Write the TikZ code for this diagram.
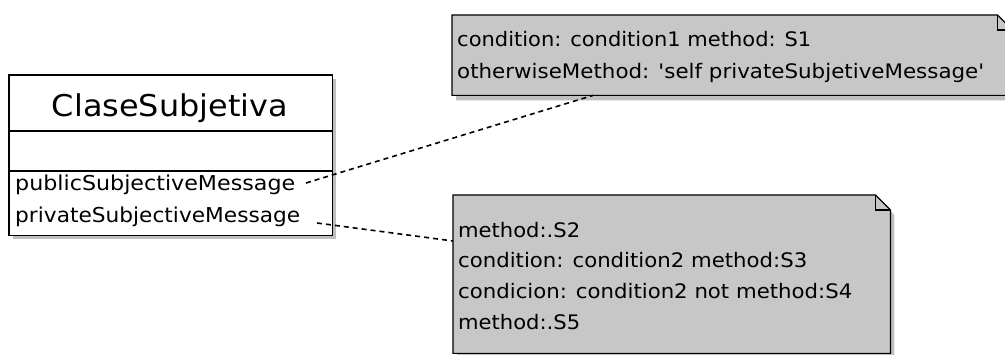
\documentclass[tikz,border=0pt]{standalone}
\usepackage{fontspec}
\setmainfont{DejaVu Sans}[Ligatures=TeXOff]
\usetikzlibrary{calc}
% set a text to a given width, keeping its height
\newcommand{\fitw}[2]{\resizebox{#1}{\height}{#2}}
\begin{document}
\begin{tikzpicture}[x=1pt,y=-1pt,
  umlline/.style={line width=1.6pt},
  noteline/.style={line width=1.2pt},
  notefill/.style={fill=black!22},
  shadowfill/.style={fill=black!25},
  dep/.style={line width=1.6pt, dash pattern=on 5pt off 4pt},
  titletext/.style={font=\fontsize{30}{36}\selectfont, inner sep=0pt, anchor=base},
  membertext/.style={font=\fontsize{20.5}{24}\selectfont, inner sep=0pt, anchor=base west},
  notetext/.style={font=\fontsize{20}{24}\selectfont, inner sep=0pt, anchor=base west},
  frame/.style={inner sep=0pt, draw=none, anchor=north west}
]
\useasboundingbox (0,0) rectangle (1005,355);
\clip (0,0) rectangle (1005,355);

% ---- class box ----
\node[frame, minimum width=323pt, minimum height=160pt] (cls) at (9,75) {};
\fill[shadowfill] ($(cls.north west)+(4,4)$) rectangle ($(cls.south east)+(4,4)$);
\draw[umlline, fill=white] (cls.north west) rectangle (cls.south east);
\draw[umlline] ($(cls.north west)+(0,56)$) -- ($(cls.north east)+(0,56)$);
\draw[umlline] ($(cls.north west)+(0,96)$) -- ($(cls.north east)+(0,96)$);
\node[titletext] (title) at (170,117) {\fitw{236pt}{ClaseSubjetiva}};
\node[membertext] (pub) at (15,191) {\fitw{280pt}{publicSubjectiveMessage}};
\node[membertext] (priv) at (15,223) {\fitw{285pt}{privateSubjectiveMessage}};

% ---- note 1 ----
\node[frame, minimum width=560pt, minimum height=80pt] (note1) at (452,15) {};
\fill[shadowfill] ($(note1.north west)+(4,5)$) -- ($(note1.north east)+(-11,5)$)
  -- ($(note1.north east)+(4,20)$) -- ($(note1.south east)+(4,5)$)
  -- ($(note1.south west)+(4,5)$) -- cycle;
\filldraw[notefill, noteline] (note1.north west) -- ($(note1.north east)+(-15,0)$)
  -- ($(note1.north east)+(0,15)$) -- (note1.south east) -- (note1.south west) -- cycle;
\draw[noteline] ($(note1.north east)+(-15,0)$) -- ($(note1.north east)+(-15,15)$)
  -- ($(note1.north east)+(0,15)$);
\node[notetext] (n1a) at (457,47) {\fitw{354pt}{condition: condition1 method: S1}};
\node[notetext] (n1b) at (457,79) {\fitw{527pt}{otherwiseMethod: 'self privateSubjetiveMessage'}};

% ---- note 2 ----
\node[frame, minimum width=437pt, minimum height=158pt] (note2) at (453,195) {};
\fill[shadowfill] ($(note2.north west)+(4,5)$) -- ($(note2.north east)+(-11,5)$)
  -- ($(note2.north east)+(4,20)$) -- ($(note2.south east)+(4,5)$)
  -- ($(note2.south west)+(4,5)$) -- cycle;
\filldraw[notefill, noteline] (note2.north west) -- ($(note2.north east)+(-15,0)$)
  -- ($(note2.north east)+(0,15)$) -- (note2.south east) -- (note2.south west) -- cycle;
\draw[noteline] ($(note2.north east)+(-15,0)$) -- ($(note2.north east)+(-15,15)$)
  -- ($(note2.north east)+(0,15)$);
\node[notetext] (n2a) at (458,238) {\fitw{122pt}{method:.S2}};
\node[notetext] (n2b) at (458,268) {\fitw{349pt}{condition: condition2 method:S3}};
\node[notetext] (n2c) at (458,299) {\fitw{394pt}{condicion: condition2 not method:S4}};
\node[notetext] (n2d) at (458,330) {\fitw{122pt}{method:.S5}};

% ---- dashed links ----
\coordinate (pubend) at (306,183);
\coordinate (privend) at (317,223);
\draw[dep] (pubend) -- ($(note1.south west)+(141,0)$);
\draw[dep] (privend) -- ($(note2.north west)+(0,46)$);
\end{tikzpicture}
\end{document}
